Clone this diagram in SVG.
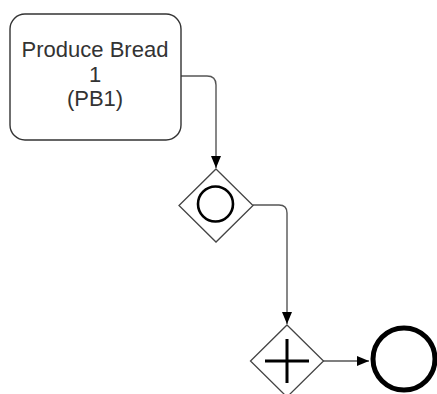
<svg xmlns="http://www.w3.org/2000/svg" width="437" height="394" viewBox="0 0 437 394">
<style>
.task{fill:#fff;stroke:#333;stroke-width:1.4}
.gw{fill:#fff;stroke:#444;stroke-width:1.3}
.lbl{font-family:"Liberation Sans",Arial,sans-serif;font-size:22px;fill:#333;text-anchor:middle}
.edge{fill:none;stroke:#555;stroke-width:1.4}
.mark{fill:none;stroke:#000}
</style>
<defs>
<marker id="arr" viewBox="0 0 12 12" refX="12" refY="6" markerWidth="12" markerHeight="12" markerUnits="userSpaceOnUse" orient="auto">
<path d="M0,1 L12,6 L0,11 Z" fill="#000"/>
</marker>
</defs>
<g id="connectors">
<path class="edge" d="M181,76 H207 Q216,76 216,85 V168" marker-end="url(#arr)"/>
<path class="edge" d="M253,205 H279 Q287,205 287,213 V324" marker-end="url(#arr)"/>
<path class="edge" d="M323,361 H369" marker-end="url(#arr)"/>
</g>
<g id="task-pb1">
<rect class="task" x="10" y="14" width="171" height="126" rx="15" ry="15"/>
<text class="lbl" x="95" y="57">Produce Bread</text>
<text class="lbl" x="95" y="81.5">1</text>
<text class="lbl" x="95" y="105.5">(PB1)</text>
</g>
<g id="gateway-event">
<path class="gw" d="M216,169 L253,205.5 L216,242 L179,205.5 Z"/>
<circle class="mark" cx="215.5" cy="204" r="17.5" stroke-width="2.6"/>
</g>
<g id="gateway-parallel">
<path class="gw" d="M287,325 L323.5,361 L287,397 L250.5,361 Z"/>
<path class="mark" d="M265,361 H309 M287,339 V383" stroke-width="3"/>
</g>
<g id="end-event">
<circle class="mark" cx="404" cy="359" r="31" stroke-width="5"/>
</g>
</svg>
